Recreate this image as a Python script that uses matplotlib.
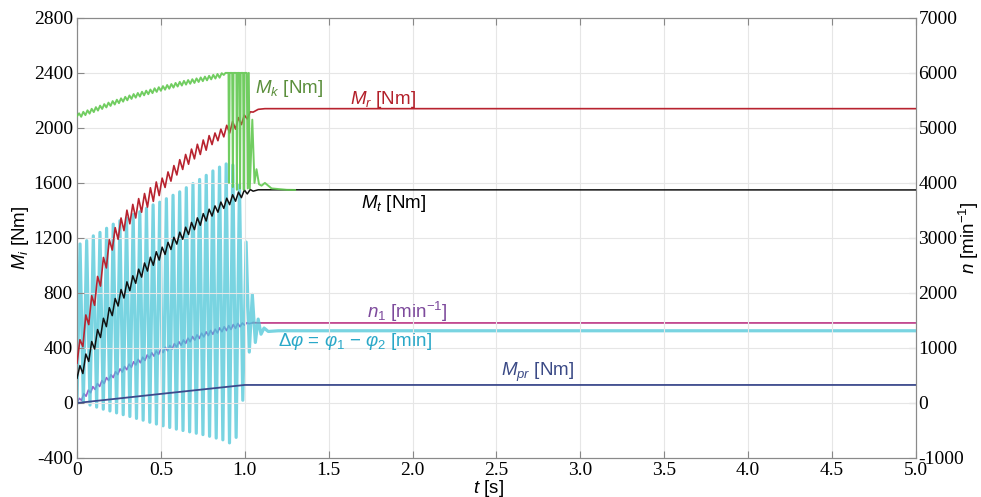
import numpy as np
import matplotlib
matplotlib.use('Agg')
import matplotlib.pyplot as plt

plt.rcParams['font.family'] = ['Liberation Sans', 'DejaVu Sans']
plt.rcParams['mathtext.fontset'] = 'custom'
plt.rcParams['mathtext.rm'] = 'Liberation Sans'
plt.rcParams['mathtext.it'] = 'Liberation Sans:italic'
plt.rcParams['mathtext.bf'] = 'Liberation Sans:bold'
plt.rcParams['axes.unicode_minus'] = False

#%% data ------------------------------------------------------------------------
# extrema of the oscillating part, evenly spaced between t0 and t1

# M_r [Nm]
mr_t0, mr_t1 = 0.0, 1.05
mr_ext = [290, 460, 410, 640, 570, 780, 710, 920, 850, 1058, 982, 1187, 1112,
          1275, 1190, 1345, 1253, 1402, 1303, 1444, 1345, 1486, 1387, 1523, 1424,
          1565, 1466, 1607, 1508, 1635, 1567, 1680, 1613, 1726, 1658, 1769, 1698,
          1807, 1736, 1846, 1775, 1881, 1807, 1912, 1838, 1944, 1879, 1963, 1907,
          1991, 1935, 2019, 1963, 2047, 1991, 2075, 2024, 2093, 2065, 2117, 2115]
mr_tail_t = [1.08, 1.12, 5.0]
mr_tail = [2135, 2140, 2140]

# M_t [Nm]
mt_t0, mt_t1 = 0.0, 1.05
mt_ext = [180, 272, 214, 356, 302, 447, 392, 534, 476, 616, 555, 693, 635,
          760, 705, 825, 763, 881, 816, 925, 870, 973, 915, 1018, 959, 1060,
          1001, 1100, 1039, 1133, 1080, 1168, 1116, 1205, 1155, 1242, 1190,
          1278, 1225, 1313, 1260, 1346, 1292, 1377, 1323, 1409, 1359, 1433,
          1387, 1461, 1415, 1489, 1442, 1514, 1467, 1533, 1493, 1549, 1520,
          1552, 1540]
mt_tail_t = [1.08, 5.0]
mt_tail = [1550, 1549]

# M_k [Nm]
mk_t0, mk_t1 = 0.0, 0.8625
mk_ext = [2085, 2106, 2081, 2117, 2093, 2128, 2104, 2139, 2115, 2151, 2126,
          2162, 2138, 2173, 2149, 2184, 2160, 2195, 2170, 2205, 2180, 2215,
          2191, 2226, 2201, 2236, 2211, 2246, 2220, 2254, 2228, 2263, 2237,
          2271, 2245, 2279, 2253, 2288, 2262, 2296, 2270, 2304, 2278, 2312,
          2285, 2319, 2293, 2327, 2301, 2335, 2308, 2342, 2315, 2348, 2321,
          2354, 2327, 2360, 2334, 2367, 2340, 2373, 2346, 2379, 2353, 2386,
          2359, 2392, 2365, 2398]
mk_tail_t = [0.875, 0.885, 0.903, 0.906, 0.91, 0.925, 0.929, 0.933, 0.95, 0.953,
             0.957, 0.968, 0.972, 0.976, 0.99, 0.994, 0.998, 1.012, 1.018, 1.024,
             1.03, 1.045, 1.058, 1.07, 1.085, 1.1, 1.12, 1.16, 1.25, 1.3]
mk_tail = [2385, 2400, 2400, 1600, 2400, 2400, 1570, 2400, 2400, 1550,
           2400, 2400, 1560, 2400, 2400, 1550, 2400, 2400, 1560, 2400,
           1560, 2060, 1600, 1700, 1590, 1580, 1600, 1560, 1550, 1549]

# delta phi [min]
dphi_head_t = [0.0]
dphi_head = [0]
dphi_t0, dphi_t1 = 0.018, 1.008
dphi_ext = [1156, 5, 1180, -15, 1215, -30, 1240, -45, 1270, -58, 1300, -72,
            1325, -85, 1345, -98, 1370, -112, 1390, -125, 1415, -140, 1440,
            -153, 1460, -166, 1485, -178, 1510, -190, 1535, -200, 1565, -210,
            1595, -220, 1625, -230, 1655, -242, 1687, -255, 1715, -268, 1738,
            -290, 1730, -250, 1590, 20, 1170]
dphi_tail_t = [1.027, 1.045, 1.063, 1.08, 1.097, 1.115, 1.14, 1.2, 5.0]
dphi_tail = [370, 790, 440, 610, 500, 545, 520, 525, 525]

# n1 [min^-1] (right axis)
n1_t0, n1_t1 = 0.0, 1.026
n1_ext = [0, 84, 48, 171, 123, 234, 186, 297, 246, 353, 300, 407, 354, 461,
          408, 515, 462, 569, 516, 620, 562, 663, 605, 706, 648, 749, 691, 792,
          732, 832, 773, 873, 813, 913, 851, 947, 883, 979, 916, 1012, 948,
          1044, 981, 1078, 1015, 1112, 1049, 1146, 1083, 1178, 1113, 1208,
          1143, 1238, 1173, 1268, 1201, 1293, 1225, 1317, 1249, 1341, 1273,
          1365, 1295, 1386, 1316, 1406, 1336, 1426, 1356, 1446, 1385, 1454,
          1414, 1458, 1442]
n1_tail_t = [1.05, 1.08, 5.0]
n1_tail = [1460, 1455, 1455]

# M_pr [Nm]
mpr_t = [0.0, 0.5, 1.0, 1.05, 5.0]
mpr = [0, 66, 131, 131, 131]

xticks = [0, 0.5, 1.0, 1.5, 2.0, 2.5, 3.0, 3.5, 4.0, 4.5, 5.0]
xticklabels = ['0', '0.5', '1.0', '1.5', '2.0', '2.5', '3.0', '3.5', '4.0', '4.5', '5.0']
yticks_l = [-400, 0, 400, 800, 1200, 1600, 2000, 2400, 2800]
yticks_r = [-1000, 0, 1000, 2000, 3000, 4000, 5000, 6000, 7000]


def series(t0, t1, ext, tail_t, tail, head_t=(), head=()):
    t = np.concatenate([head_t, np.linspace(t0, t1, len(ext)), tail_t])
    v = np.concatenate([head, ext, tail])
    return t, v


#%% plot ------------------------------------------------------------------------
fig = plt.figure(figsize=(9.81, 4.97), dpi=100)
ax = fig.add_axes([0.0785, 0.0785, 0.855, 0.8855])
ax2 = ax.twinx()
ax.set_zorder(ax2.get_zorder() + 1)
ax.patch.set_visible(False)

c_cyan = '#4cc6d8'
c_red = '#b8232f'
c_green = '#62c850'
c_black = '#111111'
c_n1 = '#9a62c8'
c_n1_flat = '#c2468e'
c_mpr = '#3c4a8c'

t, v = series(dphi_t0, dphi_t1, dphi_ext, dphi_tail_t, dphi_tail, dphi_head_t, dphi_head)
ax.plot(t, v, color=c_cyan, lw=2.3, alpha=0.75, zorder=1)

t, v = series(0, 0, [], mpr_t, mpr)
ax.plot(t, v, color=c_mpr, lw=1.3, zorder=2)

t, v = series(mr_t0, mr_t1, mr_ext, mr_tail_t, mr_tail)
ax.plot(t, v, color=c_red, lw=1.2, zorder=3)

t, v = series(mt_t0, mt_t1, mt_ext, mt_tail_t, mt_tail)
ax.plot(t, v, color=c_black, lw=1.1, zorder=4)

t, v = series(mk_t0, mk_t1, mk_ext, mk_tail_t, mk_tail)
ax.plot(t, v, color=c_green, lw=1.4, alpha=0.9, zorder=5)

# n1 on the right axis, in min^-1
t, v = series(n1_t0, n1_t1, n1_ext, n1_tail_t, n1_tail)
ax2.plot(t[t <= 1.05], v[t <= 1.05], color=c_n1, lw=1.2)
ax2.plot(t[t >= 1.05], v[t >= 1.05], color=c_n1_flat, lw=1.3)

ax.set_xlim(0, 5)
ax.set_ylim(-400, 2800)
ax2.set_ylim(-1000, 7000)
ax.set_xticks(xticks)
ax.set_xticklabels(xticklabels)
ax.set_yticks(yticks_l)
ax2.set_yticks(yticks_r)

ax.grid(color='#e6e6e6', lw=0.8)
ax.tick_params(direction='in', length=5, top=True, labelsize=14, color='#888888', pad=3)
ax2.tick_params(direction='in', length=5, labelsize=14, color='#888888', pad=2)
for a in (ax, ax2):
    for s in a.spines.values():
        s.set_color('#8a8a8a')
    for lbl in a.get_xticklabels() + a.get_yticklabels():
        lbl.set_family('Liberation Serif')

ax.set_xlabel(r'$t$ [s]', fontsize=13.5)
ax.xaxis.set_label_coords(0.49, -0.045)
ax.set_ylabel(r'$M_i$ [Nm]', fontsize=13.5, labelpad=2)
ax2.set_ylabel(r'$n$ [min$^{-1}$]', fontsize=13.5)
ax2.yaxis.set_label_coords(1.064, 0.5)
ax2.yaxis.label.set_verticalalignment('center')

fs = 13.5
ax.text(1.06, 2290, r'$M_k$ [Nm]', color='#5b8f3c', fontsize=fs, va='center')
ax.text(1.63, 2204, r'$M_r$ [Nm]', color='#b3202a', fontsize=fs, va='center')
ax.text(1.69, 1447, r'$M_t$ [Nm]', color='black', fontsize=fs, va='center')
ax.text(1.73, 662, r'$n_1$ [min$^{-1}$]', color='#7d4a9c', fontsize=fs, va='center')
ax.text(1.20, 444, r'$\Delta\varphi$ = $\varphi_1$ $-$ $\varphi_2$ [min]', color='#2aa8c8',
        fontsize=fs, va='center')
ax.text(2.53, 225, r'$M_{pr}$ [Nm]', color='#3b4a86', fontsize=fs, va='center')

plt.savefig('out.png', dpi=100)
